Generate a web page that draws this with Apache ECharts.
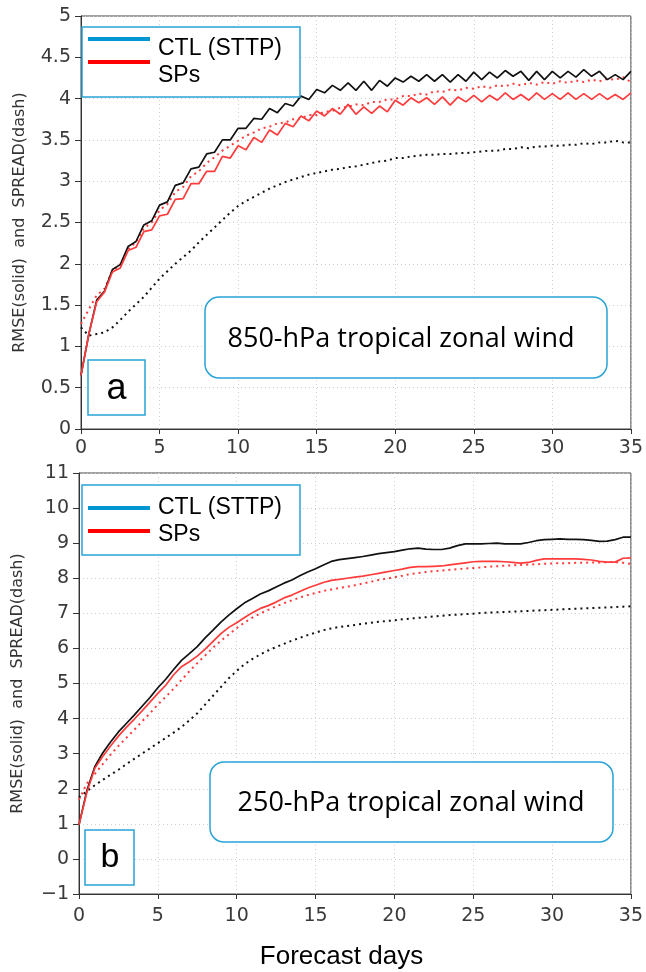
<!DOCTYPE html>
<html><head><meta charset="utf-8">
<script src="https://cdn.jsdelivr.net/npm/echarts@6/dist/echarts.min.js"></script>
<style>html,body{margin:0;padding:0;background:#fff}#c{width:646px;height:972px}</style>
</head><body><div id="c"></div><script>
// Forecast day of each sample (half-day steps)
const days = [0,0.5,1,1.5,2,2.5,3,3.5,4,4.5,5,5.5,6,6.5,7,7.5,8,8.5,9,9.5,
 10,10.5,11,11.5,12,12.5,13,13.5,14,14.5,15,15.5,16,16.5,17,17.5,18,18.5,19,19.5,
 20,20.5,21,21.5,22,22.5,23,23.5,24,24.5,25,25.5,26,26.5,27,27.5,28,28.5,29,29.5,
 30,30.5,31,31.5,32,32.5,33,33.5,34,34.5,35];
const xTicks = [0,5,10,15,20,25,30,35];
const yTicks850 = [0,0.5,1,1.5,2,2.5,3,3.5,4,4.5,5];
const yTicks250 = [-1,0,1,2,3,4,5,6,7,8,9,10,11];

// (a) 850-hPa
const ctlRmse850 = [0.65,1.15,1.56,1.67,1.93,1.99,2.21,2.27,2.47,2.52,
 2.71,2.75,2.95,2.98,3.15,3.17,3.33,3.35,3.50,3.50,
 3.64,3.64,3.76,3.75,3.88,3.83,3.94,3.91,4.03,3.99,
 4.11,4.07,4.16,4.10,4.19,4.10,4.21,4.10,4.22,4.15,
 4.25,4.20,4.27,4.21,4.29,4.21,4.29,4.20,4.29,4.21,
 4.32,4.23,4.32,4.25,4.34,4.27,4.33,4.22,4.33,4.23,
 4.33,4.25,4.33,4.26,4.35,4.27,4.33,4.23,4.29,4.23,
 4.33];
const ctlSpread850 = [1.23,1.13,1.15,1.17,1.23,1.32,1.42,1.51,1.60,1.71,
 1.82,1.91,2.00,2.08,2.16,2.26,2.35,2.44,2.53,2.62,
 2.70,2.76,2.81,2.86,2.91,2.95,2.99,3.02,3.05,3.08,
 3.10,3.12,3.14,3.15,3.17,3.18,3.20,3.22,3.24,3.25,
 3.28,3.28,3.30,3.31,3.32,3.32,3.33,3.33,3.34,3.34,
 3.35,3.36,3.37,3.37,3.39,3.39,3.41,3.40,3.42,3.42,
 3.43,3.43,3.44,3.44,3.46,3.45,3.47,3.47,3.49,3.47,
 3.47];
const spRmse850 = [0.65,1.15,1.54,1.66,1.90,1.95,2.16,2.20,2.39,2.41,
 2.58,2.60,2.78,2.79,2.97,2.97,3.12,3.12,3.30,3.28,
 3.43,3.38,3.53,3.47,3.62,3.56,3.70,3.66,3.79,3.73,
 3.85,3.79,3.88,3.81,3.93,3.81,3.90,3.82,3.91,3.84,
 3.98,3.92,4.01,3.95,4.01,3.93,4.02,3.92,4.02,3.96,
 4.04,3.96,4.04,3.98,4.07,3.99,4.05,3.98,4.07,3.99,
 4.06,3.99,4.07,3.99,4.06,3.99,4.06,3.99,4.05,3.99,
 4.07];
const spSpread850 = [1.27,1.45,1.62,1.70,1.92,1.99,2.18,2.26,2.43,2.50,
 2.65,2.72,2.87,2.93,3.06,3.12,3.22,3.29,3.37,3.43,
 3.49,3.55,3.59,3.64,3.66,3.70,3.71,3.75,3.76,3.80,
 3.80,3.84,3.85,3.89,3.90,3.93,3.92,3.96,3.96,3.99,
 3.99,4.03,4.03,4.06,4.05,4.09,4.08,4.11,4.10,4.13,
 4.12,4.15,4.13,4.16,4.15,4.18,4.16,4.19,4.17,4.20,
 4.18,4.21,4.19,4.22,4.20,4.23,4.21,4.24,4.23,4.26,
 4.20];

// (b) 250-hPa
const ctlRmse250 = [0.97,1.95,2.63,3.02,3.33,3.62,3.86,4.10,4.35,4.60,
 4.88,5.12,5.40,5.66,5.85,6.05,6.30,6.52,6.75,6.95,
 7.13,7.30,7.42,7.55,7.64,7.75,7.86,7.95,8.07,8.18,
 8.27,8.38,8.48,8.53,8.56,8.59,8.62,8.66,8.70,8.73,
 8.76,8.80,8.84,8.86,8.83,8.82,8.82,8.86,8.93,8.98,
 8.98,8.98,8.99,9.00,8.98,8.98,8.98,9.02,9.07,9.10,
 9.11,9.12,9.11,9.11,9.10,9.08,9.05,9.06,9.10,9.17,
 9.17];
const ctlSpread250 = [1.75,1.93,2.10,2.25,2.40,2.54,2.70,2.85,3.00,3.15,
 3.30,3.45,3.60,3.76,3.95,4.15,4.40,4.65,4.90,5.15,
 5.36,5.55,5.70,5.83,5.94,6.04,6.13,6.22,6.30,6.38,
 6.45,6.52,6.57,6.61,6.64,6.67,6.70,6.73,6.76,6.78,
 6.80,6.83,6.85,6.87,6.89,6.91,6.93,6.95,6.96,6.98,
 6.99,7.01,7.02,7.03,7.04,7.05,7.06,7.07,7.08,7.09,
 7.10,7.11,7.12,7.13,7.14,7.15,7.16,7.17,7.18,7.19,
 7.20];
const spRmse250 = [0.97,1.90,2.58,2.92,3.22,3.50,3.75,3.98,4.22,4.47,
 4.72,4.95,5.25,5.48,5.62,5.78,5.98,6.20,6.42,6.60,
 6.73,6.88,7.02,7.14,7.22,7.32,7.44,7.52,7.62,7.72,
 7.80,7.88,7.94,7.97,8.00,8.03,8.06,8.10,8.14,8.18,
 8.22,8.26,8.31,8.33,8.33,8.34,8.35,8.38,8.41,8.44,
 8.47,8.48,8.48,8.48,8.47,8.45,8.43,8.45,8.51,8.55,
 8.55,8.55,8.55,8.55,8.54,8.52,8.48,8.46,8.46,8.57,
 8.58];
const spSpread250 = [1.69,2.15,2.42,2.70,2.97,3.22,3.45,3.68,3.92,4.15,
 4.40,4.62,4.85,5.10,5.35,5.58,5.80,6.02,6.22,6.40,
 6.58,6.74,6.88,7.00,7.10,7.20,7.29,7.37,7.45,7.52,
 7.58,7.64,7.68,7.72,7.76,7.80,7.85,7.90,7.95,7.99,
 8.03,8.07,8.12,8.15,8.18,8.20,8.22,8.24,8.26,8.28,
 8.29,8.31,8.33,8.34,8.36,8.37,8.38,8.39,8.40,8.41,
 8.42,8.43,8.43,8.44,8.44,8.45,8.45,8.46,8.46,8.44,
 8.41];

const legendNames = ['CTL (STTP)', 'SPs'];
const panelTitles = ['850-hPa tropical zonal wind', '250-hPa tropical zonal wind'];
const panelLetters = ['a', 'b'];
const yName = 'RMSE(solid)  and  SPREAD(dash)';
const xName = 'Forecast days';

const BLACK = '#111111', RED = '#ff3b3b', BLUE = '#0096d2', BOX = '#2aa3d6';
const axisFont = 'DejaVu Sans';

function pairs(arr){ return days.map((d,i)=>[d, arr[i]]); }

function xAx(gi, margin){
  return {type:'value', gridIndex:gi, min:xTicks[0], max:xTicks[xTicks.length-1],
    interval:xTicks[1]-xTicks[0],
    axisLine:{show:true, onZero:false, lineStyle:{color:'#333', width:1}},
    axisTick:{show:true, length:5, lineStyle:{color:'#333'}},
    axisLabel:{margin:margin, fontSize:19, color:'#3a3a3a', fontFamily:axisFont},
    splitLine:{show:true, lineStyle:{color:'#cfcfcf', type:[1,3], width:1}}};
}
function yAx(gi, ticks){
  return {type:'value', gridIndex:gi, min:ticks[0], max:ticks[ticks.length-1],
    interval:ticks[1]-ticks[0],
    name:yName, nameLocation:'middle', nameGap:53, nameRotate:90,
    nameTextStyle:{fontSize:16, color:'#333', fontFamily:axisFont},
    axisLine:{show:true, onZero:false, lineStyle:{color:'#333', width:1}},
    axisTick:{show:true, length:6, lineStyle:{color:'#333'}},
    axisLabel:{margin:10, fontSize:19, color:'#3a3a3a', fontFamily:axisFont,
      formatter:v=>String(v).replace('-', '\u2212')},
    splitLine:{show:true, lineStyle:{color:'#cfcfcf', type:[1,3], width:1}}};
}
function solid(gi, arr, color, name){
  return {type:'line', name:name, xAxisIndex:gi, yAxisIndex:gi, data:pairs(arr), showSymbol:false,
    lineStyle:{color:color, width:1.7}, z:4};
}
function dotted(gi, arr, color, name){
  return {type:'line', name:name, xAxisIndex:gi, yAxisIndex:gi, data:pairs(arr), showSymbol:false,
    lineStyle:{color:color, width:2, type:[2,4]}, z:3};
}

function legendBox(top, lineYs, textYs){
  return [
    {type:'rect', shape:{x:82, y:top, width:218, height:70}, style:{fill:'#fff', stroke:BOX, lineWidth:1.5}},
    {type:'line', shape:{x1:88, y1:lineYs[0], x2:150, y2:lineYs[0]}, style:{stroke:BLUE, lineWidth:4}},
    {type:'line', shape:{x1:88, y1:lineYs[1], x2:150, y2:lineYs[1]}, style:{stroke:'#ff0000', lineWidth:4}},
    {type:'text', x:158, y:textYs[0], style:{text:legendNames[0], font:'23px "Liberation Sans", Arial', fill:'#000', verticalAlign:'middle'}},
    {type:'text', x:158, y:textYs[1], style:{text:legendNames[1], font:'23px "Liberation Sans", Arial', fill:'#000', verticalAlign:'middle'}}
  ];
}
function titleBox(x, y, w, h, title, tx, ty){
  return [
    {type:'rect', shape:{x:x, y:y, width:w, height:h, r:14}, style:{fill:'#fff', stroke:BOX, lineWidth:1.5}},
    {type:'text', x:tx, y:ty, style:{text:title, font:'27px "Open Sans"', fill:'#000', align:'center', verticalAlign:'middle'}}
  ];
}
function letterBox(x, y, w, h, letter, fs, tx, ty){
  return [
    {type:'rect', shape:{x:x, y:y, width:w, height:h}, style:{fill:'#fff', stroke:BOX, lineWidth:1.5}},
    {type:'text', x:tx, y:ty, style:{text:letter, font:fs+'px "Liberation Sans", Arial', fill:'#000', align:'center', verticalAlign:'middle'}}
  ];
}

const graphics = [].concat(
  legendBox(27, [39, 62], [49, 76]),
  legendBox(485, [508, 531], [508, 535]),
  titleBox(205, 297, 402, 81, panelTitles[0], 401, 339),
  titleBox(210, 762, 403, 80, panelTitles[1], 411, 803),
  letterBox(88, 360, 57, 55, panelLetters[0], 36, 116.5, 389),
  letterBox(85, 830, 49, 55, panelLetters[1], 34, 110, 858),
  [{type:'text', x:341.5, y:957, style:{text:xName, font:'26px "Liberation Sans", Arial', fill:'#000', align:'center', verticalAlign:'middle'}}]
).map(g=>Object.assign({z:100}, g));

const chart = echarts.init(document.getElementById('c'), null, {renderer:'canvas'});
chart.setOption({
  animation:false,
  backgroundColor:'#fff',
  grid:[
    {left:81, top:16, width:551, height:413, show:true, borderColor:'#444', borderWidth:1},
    {left:79, top:473, width:552, height:421, show:true, borderColor:'#444', borderWidth:1}
  ],
  xAxis:[xAx(0, 10), xAx(1, 13)],
  yAxis:[yAx(0, yTicks850), yAx(1, yTicks250)],
  series:[
    dotted(0, ctlSpread850, BLACK, 'CTL (STTP) spread'),
    dotted(0, spSpread850, RED, 'SPs spread'),
    solid(0, ctlRmse850, BLACK, 'CTL (STTP) RMSE'),
    solid(0, spRmse850, RED, 'SPs RMSE'),
    dotted(1, ctlSpread250, BLACK, 'CTL (STTP) spread'),
    dotted(1, spSpread250, RED, 'SPs spread'),
    solid(1, ctlRmse250, BLACK, 'CTL (STTP) RMSE'),
    solid(1, spRmse250, RED, 'SPs RMSE')
  ],
  graphic:graphics
});
</script></body></html>
